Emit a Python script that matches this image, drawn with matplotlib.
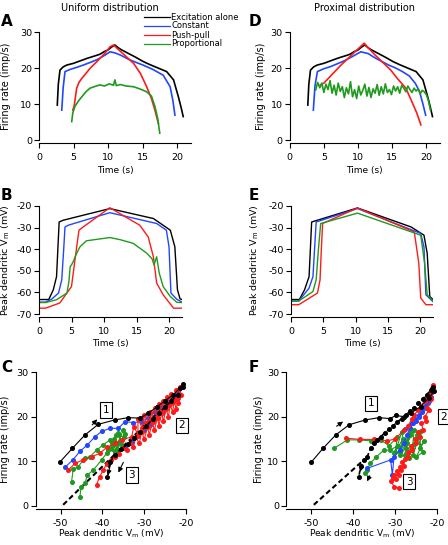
import matplotlib.pyplot as plt

# ---- data ----
# A: firing rate vs time, uniform distribution
a_black_t = [2.65, 2.8, 3.04, 3.5, 4.0, 5.0, 6.0, 7.0, 8.0, 8.8, 9.5, 10.0, 10.5, 11.0, 11.5, 12.0, 13.0, 14.0, 15.1, 16.0, 17.0, 18.5, 19.5, 20.2, 20.6, 20.9]
a_black_r = [9.7, 15.5, 19.4, 20.3, 20.8, 21.3, 22.0, 22.7, 23.3, 23.8, 24.6, 25.0, 25.8, 26.4, 25.6, 25.0, 24.0, 23.0, 21.8, 21.0, 20.2, 19.0, 16.7, 12.0, 9.0, 6.5]
a_blue_t = [3.3, 3.5, 3.77, 4.5, 5.5, 6.4, 7.5, 8.5, 9.5, 10.3, 11.0, 11.8, 13.0, 14.0, 15.1, 16.5, 18.0, 19.0, 19.4, 19.7]
a_blue_r = [8.3, 14.5, 19.0, 19.6, 20.2, 20.8, 21.6, 22.4, 23.5, 24.5, 24.2, 23.6, 22.4, 21.6, 20.8, 19.6, 18.0, 14.8, 11.0, 6.9]
a_red_t = [4.9, 5.1, 5.46, 5.8, 6.2, 7.4, 8.5, 9.5, 10.3, 10.8, 11.3, 12.5, 13.7, 14.7, 15.6, 16.3, 16.8, 17.3]
a_red_r = [8.3, 9.5, 14.4, 16.0, 17.1, 19.9, 22.0, 24.0, 25.9, 26.4, 25.5, 23.4, 21.3, 18.5, 14.8, 11.5, 8.3, 4.6]
a_green_t = [4.74, 4.9, 5.2, 5.7, 6.2, 6.8, 7.4, 8.0, 8.8, 9.5, 10.2, 10.8, 11.0, 11.2, 11.8, 12.6, 13.7, 14.6, 15.6, 16.3, 16.8, 17.2, 17.5]
a_green_r = [5.1, 7.5, 9.3, 10.8, 12.0, 13.4, 14.4, 14.8, 15.3, 15.0, 15.6, 15.2, 16.7, 15.1, 15.4, 15.0, 14.8, 14.2, 13.4, 12.2, 9.3, 6.0, 1.9]

# D: firing rate vs time, proximal distribution
d_black_t = a_black_t
d_black_r = a_black_r
d_blue_t = [3.46, 3.7, 4.05, 5.0, 6.0, 7.0, 8.0, 9.0, 10.4, 11.5, 12.5, 13.5, 14.5, 15.5, 16.5, 17.5, 18.4, 19.0, 19.5, 19.9]
d_blue_r = [8.3, 15.0, 19.0, 19.8, 20.4, 21.2, 22.0, 23.0, 24.5, 24.0, 22.8, 21.8, 20.8, 20.0, 19.0, 17.8, 15.7, 13.5, 10.0, 6.9]
d_red_t = [4.5, 5.0, 5.5, 6.5, 7.5, 8.5, 9.5, 10.4, 10.9, 11.5, 12.5, 13.5, 14.8, 15.8, 17.0, 17.8, 18.6, 19.2]
d_red_r = [15.3, 15.8, 16.8, 18.8, 20.8, 22.6, 24.4, 26.0, 26.9, 25.6, 23.6, 21.8, 19.4, 17.0, 14.4, 11.0, 7.5, 4.2]
d_green_t = [3.8, 4.1, 4.4, 4.7, 5.0, 5.3, 5.6, 5.9, 6.2, 6.5, 6.8, 7.1, 7.4, 7.7, 8.0, 8.3, 8.6, 8.9, 9.2, 9.5,
             9.8, 10.1, 10.4, 10.7, 11.0, 11.3, 11.6, 11.9, 12.2, 12.5, 12.8, 13.1, 13.4, 13.7, 14.0, 14.3, 14.6, 14.9,
             15.2, 15.5, 15.8, 16.1, 16.4, 16.7, 17.0, 17.3, 17.6, 17.9, 18.2, 18.5, 18.8, 19.1, 19.4, 19.7, 20.0, 20.3, 20.6]
d_green_r = [13.9, 16.0, 14.5, 15.8, 13.2, 15.5, 14.0, 16.5, 13.0, 15.2, 12.5, 15.8, 13.5, 14.8, 11.8, 14.5, 12.8, 16.2, 12.0, 14.0,
             11.5, 15.0, 12.5, 13.8, 15.5, 12.2, 14.6, 11.8, 14.2, 13.0, 15.4, 12.4, 14.8, 12.8, 15.6, 13.2, 14.0, 12.6,
             15.0, 13.6, 14.8, 13.0, 15.2, 14.4, 13.4, 15.0, 14.0, 13.2, 14.4, 13.6, 14.2, 12.8, 13.8, 13.4, 12.6, 11.0, 8.3]

# B: peak dendritic Vm vs time, uniform
b_black_t = [0, 1.5, 2.2, 2.7, 2.9, 3.1, 3.7, 10.9, 17.6, 20.2, 20.9, 21.3, 21.7, 22]
b_black_v = [-63.3, -63.3, -58.8, -52.7, -40, -27.4, -26.6, -21.2, -25.8, -31.2, -38.9, -58.8, -63.0, -63.3]
b_blue_t = [0, 1.0, 2.0, 3.0, 3.5, 3.8, 4.0, 4.5, 10.9, 18.1, 19.6, 20.0, 20.3, 21.2, 22]
b_blue_v = [-64.5, -64.5, -63.0, -60.3, -54.2, -40, -29.7, -28.9, -23.1, -28.1, -31.2, -38.9, -60.3, -63.2, -64.5]
b_red_t = [0, 1.0, 3.2, 5.0, 5.4, 5.8, 6.15, 6.8, 10.9, 15.5, 16.8, 17.6, 18.1, 19.1, 20.7, 22]
b_red_v = [-67.3, -67.3, -64.9, -57.3, -48, -38.9, -31.2, -29.7, -20.8, -28.9, -34.3, -43.5, -55.7, -61.1, -67.3, -67.3]
b_green_t = [0, 1.0, 2.7, 4.3, 4.6, 4.8, 5.0, 5.3, 5.7, 6.3, 7.3, 9.0, 10.9, 12.5, 14.5, 16.6, 17.4, 17.7, 18.1, 18.5, 19.1, 20.2, 21.2, 22]
b_green_v = [-64.7, -64.7, -63.4, -60.3, -55, -48.0, -47.3, -45.5, -42.5, -38.9, -36.1, -35.4, -34.6, -35.6, -37.3, -41.9, -44.5, -47.3, -43.5, -51.1, -57.3, -61.9, -64.6, -64.7]

# E: peak dendritic Vm vs time, proximal
e_black_t = [0, 1.3, 2.1, 2.8, 3.0, 3.2, 10.3, 18.6, 20.6, 21.1, 21.5, 22]
e_black_v = [-63.3, -63.3, -58.8, -52.7, -40, -27.4, -20.9, -29.7, -33.5, -41.9, -61.9, -63.3]
e_blue_t = [0, 1.2, 2.8, 3.4, 3.65, 3.9, 10.3, 20.1, 20.6, 20.9, 22]
e_blue_v = [-64.0, -64.0, -58.0, -52.7, -40, -27.4, -21.2, -32.7, -38.9, -61.1, -64.3]
e_green_t = [0, 1.2, 3.4, 3.9, 4.25, 4.6, 10.3, 20.1, 20.7, 21.1, 22]
e_green_v = [-64.0, -64.0, -59.6, -54.2, -40, -28.1, -23.3, -33.5, -46.5, -61.1, -64.0]
e_red_t = [0, 1.2, 4.1, 4.5, 4.7, 4.9, 10.3, 19.1, 19.8, 20.1, 20.9, 22]
e_red_v = [-65.7, -65.7, -60.3, -54.2, -40, -28.1, -20.9, -32.0, -46.5, -62.6, -65.7, -65.7]

# C: firing rate vs peak dendritic Vm, uniform
c_black_up_v = [-50.2, -47.2, -44.2, -41.0, -37.0, -33.8, -31.0, -29.0, -27.0, -25.0, -23.0, -21.5, -20.6]
c_black_up_r = [9.8, 12.9, 15.9, 18.3, 19.3, 19.8, 19.7, 20.8, 22.2, 23.6, 25.0, 26.4, 27.4]
c_black_dn_v = [-20.8, -22.0, -23.5, -25.0, -26.5, -28.0, -29.5, -31.0, -32.5, -34.0, -35.5, -37.0, -38.2, -38.8]
c_black_dn_r = [26.6, 25.0, 23.6, 22.2, 20.8, 19.4, 18.0, 16.6, 15.2, 13.8, 12.8, 11.4, 9.8, 6.4]
c_fit_v = [-49.4, -20.6]
c_fit_r = [0.2, 26.6]
c_blue_v = [-49.0, -47.1, -45.4, -43.6, -41.8, -40.2, -38.2, -36.2, -34.6, -32.6, -30.6, -29.0, -27.5, -26.0, -24.5, -23.0, -21.8,
            -22.5, -24.0, -25.5, -27.0, -28.5, -30.0, -31.5, -33.0, -34.5]
c_blue_r = [8.6, 10.3, 12.2, 13.7, 15.5, 16.7, 17.4, 17.4, 18.9, 18.7, 18.9, 19.8, 21.0, 22.4, 23.6, 24.8, 26.0,
            24.0, 22.6, 21.0, 19.8, 18.2, 17.0, 15.6, 14.4, 13.0]
c_red_v = [-48.2, -46.6, -44.6, -42.6, -40.6, -39.0, -37.0, -35.4, -33.0, -32.5, -31.5, -31.5, -30.5, -30.0, -29.5, -28.5, -28.5, -27.5,
           -27.0, -26.5, -26.0, -25.5, -25.0, -24.5, -24.0, -23.5, -23.0, -22.5, -22.0, -21.5, -21.2, -21.8, -21.4, -22.4, -22.8,
           -23.2, -23.8, -24.2, -24.8, -25.4, -25.8, -26.5, -26.8, -27.6, -28.0, -28.8, -29.2, -30.0, -30.6, -31.2, -32.0, -32.6,
           -33.4, -34.2, -35.0, -36.0, -37.0, -38.0, -39.0, -39.8, -40.7, -41.4]
c_red_r = [8.0, 9.5, 10.3, 11.0, 11.8, 13.1, 14.0, 14.8, 15.5, 17.8, 16.0, 19.5, 17.5, 20.5, 18.5, 21.0, 19.0, 22.0,
           20.0, 22.8, 21.0, 23.5, 21.8, 24.5, 22.6, 25.2, 23.4, 26.0, 24.2, 26.8, 25.0, 23.0, 24.8, 21.8, 23.8,
           21.0, 22.8, 20.0, 21.8, 19.0, 20.8, 18.0, 19.8, 17.0, 18.8, 16.0, 17.6, 15.0, 16.6, 14.0, 15.4, 13.2,
           14.0, 12.6, 13.0, 11.6, 11.0, 10.2, 9.4, 8.0, 6.5, 4.7]
c_green_v = [-47.4, -47.0, -45.8, -44.2, -43.0, -41.4, -39.8, -38.2, -37.5, -36.8, -37.8, -36.2, -35.5, -36.5, -35.0, -34.8,
             -36.0, -37.2, -35.6, -34.6, -36.4, -37.6, -36.8, -38.0, -37.0, -38.6, -39.0, -40.2, -42.2, -43.6, -44.2, -45.1, -45.4]
c_green_r = [5.3, 8.2, 8.8, 10.7, 11.0, 12.5, 13.7, 14.8, 13.6, 15.8, 14.2, 16.4, 14.8, 13.8, 17.0, 15.4,
             16.0, 15.0, 13.8, 16.2, 12.8, 14.4, 12.4, 13.0, 12.0, 12.6, 11.8, 10.3, 8.0, 6.9, 5.0, 4.3, 2.0]

# F: firing rate vs peak dendritic Vm, proximal
f_black_up_v = [-50.0, -47.2, -44.2, -41.0, -37.1, -33.9, -31.3, -29.8, -27.9, -26.3, -24.0, -22.0, -20.8]
f_black_up_r = [9.8, 12.9, 15.9, 18.2, 19.3, 19.8, 19.6, 20.3, 20.0, 20.8, 22.3, 24.2, 25.7]
f_black_dn_v = [-21.0, -21.6, -22.5, -23.5, -24.5, -25.5, -26.5, -27.5, -28.5, -29.5, -30.5, -31.5, -32.5, -33.5, -34.3,
                -35.0, -35.8, -36.7, -37.5, -38.2, -38.7]
f_black_dn_r = [26.8, 26.0, 25.0, 24.0, 23.0, 22.0, 21.2, 20.4, 19.6, 18.8, 18.0, 17.2, 16.4, 15.5, 14.8,
                14.0, 13.0, 11.0, 10.3, 9.0, 6.5]
f_fit_v = [-49.4, -37.5]
f_fit_r = [0.2, 10.3]
f_blue_v = [-36.7, -31.1, -30.7, -30.3, -29.0, -28.0, -27.2, -26.5, -25.8, -25.0, -24.4, -23.6, -23.0, -22.2, -21.6, -21.2,
            -22.0, -22.8, -23.6, -24.4, -25.2, -26.0, -26.8, -27.6]
f_blue_r = [8.4, 10.3, 6.9, 11.0, 12.5, 14.0, 16.0, 17.5, 18.5, 19.0, 20.5, 21.0, 22.5, 23.0, 24.5, 25.5,
            23.5, 22.0, 21.2, 20.0, 19.5, 18.5, 18.0, 17.2]
f_red_v = [-41.8, -38.4, -35.1, -31.9, -30.0, -28.0, -27.0, -26.0, -25.5, -24.5, -24.0, -23.0, -22.5, -21.6, -21.2, -21.0,
           -21.8, -21.4, -22.4, -22.0, -23.0, -22.8, -23.8, -23.4, -24.6, -24.2, -25.4, -25.0, -26.2, -26.0, -27.0, -27.0,
           -27.8, -28.4, -28.0, -29.0, -28.6, -29.6, -29.2, -30.3, -29.8, -30.5, -31.0, -30.3, -29.1]
f_red_r = [15.2, 14.9, 14.9, 14.6, 15.0, 17.0, 18.0, 19.5, 20.5, 21.5, 22.5, 23.5, 24.5, 25.5, 26.5, 27.2,
           25.0, 24.0, 22.0, 21.5, 20.0, 19.0, 18.5, 17.0, 16.5, 15.5, 15.0, 14.0, 13.5, 12.5, 12.0, 11.0,
           10.5, 9.8, 9.0, 8.8, 8.0, 7.8, 7.0, 7.0, 6.0, 6.2, 5.5, 4.3, 4.0]
f_green_v = [-44.6, -41.4, -38.7, -35.9, -33.5, -31.5, -29.5, -30.0, -28.5, -27.5, -28.8, -26.5, -27.2, -25.5, -26.0,
             -24.5, -25.8, -23.8, -24.2, -23.2, -25.0, -23.5, -24.8, -26.8, -25.6, -27.8, -26.4, -29.0, -28.2, -30.2,
             -29.4, -31.2, -32.7, -34.5, -36.0, -36.7, -37.1]
f_green_r = [12.9, 14.8, 14.8, 14.6, 14.8, 13.5, 15.5, 12.0, 16.5, 13.0, 11.5, 16.0, 14.0, 17.0, 12.5,
             15.5, 11.5, 16.8, 13.0, 14.5, 11.0, 12.0, 15.8, 10.8, 13.8, 11.5, 16.5, 12.0, 15.0, 11.8,
             13.5, 12.5, 12.5, 11.0, 9.5, 8.0, 7.3]

# boxes and arrows (v, r) in C and F
c_boxes = [('1', -39.2, 21.5), ('2', -21.0, 18.1), ('3', -33.0, 6.9)]
c_arrows = [((-42.9, 17.7), (-40.8, 19.9)), ((-37.8, 10.3), (-38.9, 6.2)), ((-34.7, 10.3), (-36.5, 6.9))]
f_boxes = [('1', -35.8, 23.0), ('2', -18.4, 20.0), ('3', -26.7, 5.4)]
f_arrows = [((-44.5, 17.5), (-41.9, 19.3)), ((-37.8, 9.6), (-38.6, 7.0)), ((-35.8, 7.3), (-37.0, 4.9))]

labels = ['Excitation alone', 'Constant', 'Push-pull', 'Proportional']
colors = ['black', '#2047ff', '#ff1a1a', '#1f9a1f']

plt.rcParams['font.family'] = 'DejaVu Sans'
plt.rcParams['font.size'] = 7
plt.rcParams['axes.unicode_minus'] = False

W, H = 448, 545
fig = plt.figure(figsize=(W / 100, H / 100), dpi=100)


def add_ax(x0, x1, ytop, ybot):
    ax = fig.add_axes([x0 / W, 1 - ybot / H, (x1 - x0) / W, (ybot - ytop) / H])
    for s in ['top', 'right']:
        ax.spines[s].set_visible(False)
    ax.spines['bottom'].set_position(('outward', 2.5))
    ax.spines['left'].set_linewidth(0.8)
    ax.spines['bottom'].set_linewidth(0.8)
    ax.tick_params(direction='out', length=3.5, width=0.8, labelsize=6.8)
    ax.tick_params(axis='x', pad=3.5)
    ax.tick_params(axis='y', pad=1.5)
    ax.patch.set_visible(False)
    return ax


def label_pos(ax, x0, xw, ylab_px, ybot, xlab_px):
    # y label: right edge at ylab_px, x label: top at xlab_px (pixels)
    ax.yaxis.set_label_coords((ylab_px - x0) / xw, 0.5)
    ax.xaxis.set_label_coords(0.5, -(xlab_px - ybot) / (ax.get_position().height * H))


# ---- A ----
axA = add_ax(39, 190.8, 32, 140)
for t, r, c, lab in zip([a_black_t, a_blue_t, a_red_t, a_green_t], [a_black_r, a_blue_r, a_red_r, a_green_r], colors, labels):
    axA.plot(t, r, color=c, lw=1.2, label=lab)
axA.set_xlim(0, 22)
axA.set_ylim(0, 30)
axA.set_xticks([0, 5, 10, 15, 20])
axA.set_yticks([0, 10, 20, 30])
axA.set_xlabel('Time (s)', fontsize=6.5)
axA.set_ylabel('Firing rate (imp/s)', fontsize=7)
label_pos(axA, 39, 151.8, 11.5, 140, 166)
leg = axA.legend(loc='upper left', bbox_to_anchor=(144 / W, 1 - 12.5 / H), bbox_transform=fig.transFigure,
                 frameon=False, handlelength=3.1, handletextpad=0.15, labelspacing=0.0, borderpad=0,
                 borderaxespad=0, fontsize=6)
for ln in leg.get_lines():
    ln.set_linewidth(0.9)

# ---- D ----
axD = add_ax(289.7, 440, 32, 140)
for t, r, c in zip([d_black_t, d_blue_t, d_red_t, d_green_t], [d_black_r, d_blue_r, d_red_r, d_green_r], colors):
    axD.plot(t, r, color=c, lw=1.2)
axD.set_xlim(0, 22)
axD.set_ylim(0, 30)
axD.set_xticks([0, 5, 10, 15, 20])
axD.set_yticks([0, 10, 20, 30])
axD.set_xlabel('Time (s)', fontsize=6.5)
axD.set_ylabel('Firing rate (imp/s)', fontsize=7)
label_pos(axD, 289.7, 150.3, 266, 140, 166)

# ---- B ----
axB = add_ax(39, 182, 206, 314)
for t, v, c in zip([b_black_t, b_blue_t, b_red_t, b_green_t], [b_black_v, b_blue_v, b_red_v, b_green_v], colors):
    axB.plot(t, v, color=c, lw=1.0)
axB.set_xlim(0, 22)
axB.set_ylim(-70, -20)
axB.set_xticks([0, 5, 10, 15, 20])
axB.set_yticks([-70, -60, -50, -40, -30, -20])
axB.set_xlabel('Time (s)', fontsize=6.5)
axB.set_ylabel('Peak dendritic V$_\\mathregular{m}$ (mV)', fontsize=6.8)
label_pos(axB, 39, 143, 12.5, 314, 339)

# ---- E ----
axE = add_ax(291, 433, 206, 314)
for t, v, c in zip([e_black_t, e_blue_t, e_red_t, e_green_t], [e_black_v, e_blue_v, e_red_v, e_green_v], colors):
    axE.plot(t, v, color=c, lw=1.0)
axE.set_xlim(0, 22)
axE.set_ylim(-70, -20)
axE.set_xticks([0, 5, 10, 15, 20])
axE.set_yticks([-70, -60, -50, -40, -30, -20])
axE.set_xlabel('Time (s)', fontsize=6.5)
axE.set_ylabel('Peak dendritic V$_\\mathregular{m}$ (mV)', fontsize=6.8)
label_pos(axE, 291, 142, 261, 314, 339)


def phase_panel(ax, black_up, black_dn, fit, blue, red, green, boxes, arrows):
    ax.plot(fit[0], fit[1], color='black', lw=1.5, ls=(0, (2.5, 1.5)))
    ms = 2.6
    ax.plot(green[0], green[1], color=colors[3], lw=0.8, marker='o', ms=ms)
    ax.plot(blue[0], blue[1], color=colors[1], lw=0.8, marker='o', ms=ms)
    ax.plot(red[0], red[1], color=colors[2], lw=0.8, marker='o', ms=ms)
    ax.plot(black_up[0], black_up[1], color='black', lw=0.8, marker='o', ms=ms)
    ax.plot(black_dn[0], black_dn[1], color='black', lw=1.2, ls=(0, (2.5, 1.5)), marker='o', ms=ms)
    for txt, x, y in boxes:
        ax.text(x, y, txt, ha='center', va='center', fontsize=7.5, clip_on=False,
                bbox=dict(boxstyle='square,pad=0.25', fc='white', ec='black', lw=0.8))
    for start, end in arrows:
        ax.annotate('', xy=end, xytext=start,
                    arrowprops=dict(arrowstyle='-|>', color='black', lw=0.8, mutation_scale=7))
    ax.set_xlim(-56, -20)
    ax.set_ylim(0, 30)
    ax.set_xticks([-50, -40, -30, -20])
    ax.set_yticks([0, 10, 20, 30])
    ax.set_xlabel('Peak dendritic V$_\\mathregular{m}$ (mV)', fontsize=6.5)
    ax.set_ylabel('Firing rate (imp/s)', fontsize=7)


# ---- C ----
axC = add_ax(35.6, 186, 372.3, 505.7)
phase_panel(axC, (c_black_up_v, c_black_up_r), (c_black_dn_v, c_black_dn_r), (c_fit_v, c_fit_r),
            (c_blue_v, c_blue_r), (c_red_v, c_red_r), (c_green_v, c_green_r), c_boxes, c_arrows)
label_pos(axC, 35.6, 150.4, 10.5, 505.7, 528)

# ---- F ----
axF = add_ax(286.1, 437.3, 372.3, 505.7)
phase_panel(axF, (f_black_up_v, f_black_up_r), (f_black_dn_v, f_black_dn_r), (f_fit_v, f_fit_r),
            (f_blue_v, f_blue_r), (f_red_v, f_red_r), (f_green_v, f_green_r), f_boxes, f_arrows)
label_pos(axF, 286.1, 151.2, 264, 505.7, 528)

# titles and panel letters
fig.text(110 / W, 1 - 8 / H, 'Uniform distribution', ha='center', va='center', fontsize=7)
fig.text(364 / W, 1 - 8 / H, 'Proximal distribution', ha='center', va='center', fontsize=7)
for letter, x, y in [('A', 1, 22), ('D', 249, 22), ('B', 1, 195), ('E', 249, 195), ('C', 1, 367), ('F', 249, 367)]:
    fig.text(x / W, 1 - y / H, letter, ha='left', va='center', fontsize=11, fontweight='bold')

fig.savefig('out.png', dpi=100)
